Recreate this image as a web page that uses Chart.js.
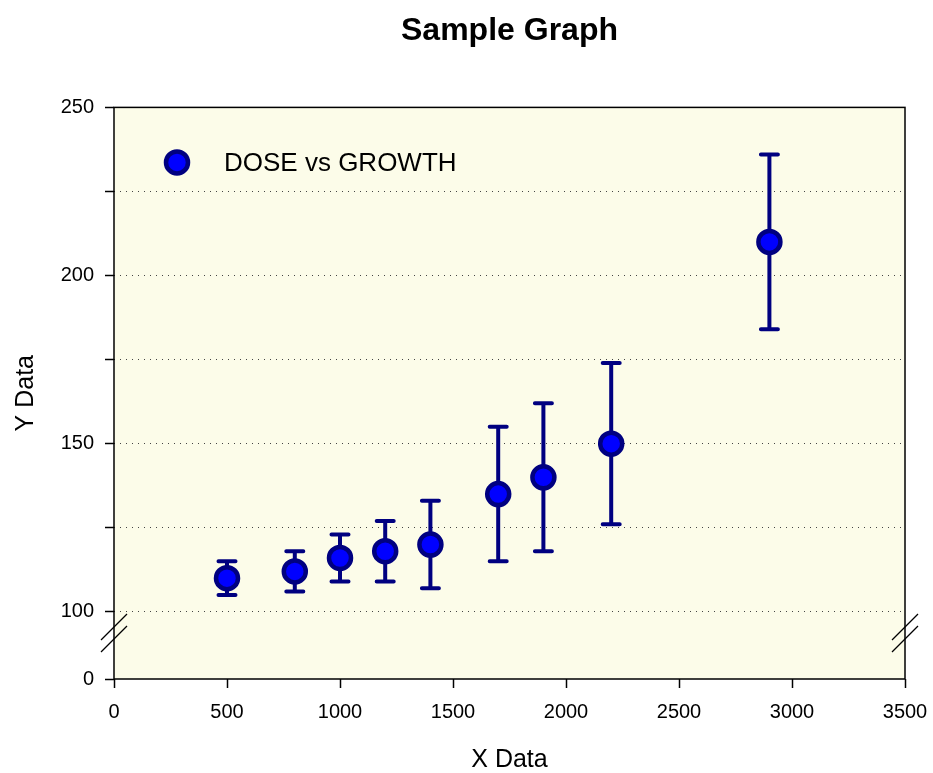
<!DOCTYPE html>
<html>
<head>
<meta charset="utf-8">
<script src="https://cdn.jsdelivr.net/npm/chart.js@4.4.1/dist/chart.umd.min.js"></script>
<style>
  html, body { margin: 0; padding: 0; background: #fff; }
  canvas { display: block; }
</style>
</head>
<body>
<canvas id="chartCanvas" width="933" height="773"></canvas>
<script>
const doseX = [500, 800, 1000, 1200, 1400, 1700, 1900, 2200, 2900];
const growthY = [110, 112, 116, 118, 120, 135, 140, 150, 210];
const errUpper = [115, 118, 123, 127, 133, 155, 162, 174, 236];
const errLower = [105, 106, 109, 109, 107, 115, 118, 126, 184];
const yTicks = [80, 100, 125, 150, 175, 200, 225, 250];   // 80 sits where the broken axis shows "0"
const yMajor = [80, 100, 150, 200, 250];
const yBreakValue = 93.7;
const font = "'Liberation Sans', Arial, sans-serif";

const points = doseX.map((x, i) => ({ x: x, y: growthY[i] }));

// plot background + frame
const framePlugin = {
    id: "frame",
    afterLayout(chart) {
        // centre the title over the plot, not the canvas
        if (chart.titleBlock) {
            chart.titleBlock.left = chart.chartArea.left;
            chart.titleBlock.right = chart.chartArea.right;
        }
    },
    beforeDraw(chart) {
        const a = chart.chartArea, c = chart.ctx;
        c.save();
        c.fillStyle = "#FCFCE9";
        c.fillRect(a.left, a.top, a.right - a.left, a.bottom - a.top);
        c.restore();
    },
    afterDraw(chart) {
        const a = chart.chartArea, c = chart.ctx;
        c.save();
        c.strokeStyle = "#000";
        c.lineWidth = 1.5;
        c.strokeRect(a.left, a.top, a.right - a.left, a.bottom - a.top);
        // axis break marks
        const yb = chart.scales.y.getPixelForValue(yBreakValue);
        c.lineWidth = 1.3;
        [a.left, a.right].forEach(function (xb) {
            [-6, 6].forEach(function (d) {
                c.beginPath();
                c.moveTo(xb - 13, yb + d + 13);
                c.lineTo(xb + 13, yb + d - 13);
                c.stroke();
            });
        });
        c.restore();
    }
};

// vertical error bars, drawn under the symbols
const errorBarPlugin = {
    id: "errorBars",
    beforeDatasetsDraw(chart) {
        const c = chart.ctx, xs = chart.scales.x, ys = chart.scales.y;
        c.save();
        c.strokeStyle = "#000080";
        c.lineWidth = 4;
        c.lineCap = "round";
        doseX.forEach(function (x, i) {
            const px = xs.getPixelForValue(x);
            const top = ys.getPixelForValue(errUpper[i]);
            const bot = ys.getPixelForValue(errLower[i]);
            c.beginPath();
            c.moveTo(px, top); c.lineTo(px, bot);
            c.moveTo(px - 8.5, top); c.lineTo(px + 8.5, top);
            c.moveTo(px - 8.5, bot); c.lineTo(px + 8.5, bot);
            c.stroke();
        });
        c.restore();
    }
};

// legend box inside the plot, top left
const innerLegendPlugin = {
    id: "innerLegend",
    afterDraw(chart) {
        const c = chart.ctx, a = chart.chartArea;
        const ds = chart.data.datasets[0];
        const cx = a.left + 63, cy = a.top + 55;
        c.save();
        c.beginPath();
        c.arc(cx, cy, ds.pointRadius, 0, Math.PI * 2);
        c.fillStyle = ds.backgroundColor;
        c.fill();
        c.lineWidth = ds.borderWidth;
        c.strokeStyle = ds.borderColor;
        c.stroke();
        c.fillStyle = "#000";
        c.font = "26px " + font;
        c.textBaseline = "middle";
        c.fillText(ds.label, a.left + 110, cy + 1);
        c.restore();
    }
};

const ctx = document.getElementById("chartCanvas").getContext("2d");

const config = {
    type: "scatter",
    data: {
        datasets: [
            {
                label: "DOSE vs GROWTH",
                data: points,
                pointRadius: 11,
                pointHoverRadius: 11,
                borderWidth: 4.5,
                backgroundColor: "#0000FF",
                borderColor: "#000080"
            }
        ]
    },
    options: {
        responsive: false,
        animation: false,
        layout: { padding: { left: 0, right: 28, top: 0, bottom: 0 } },
        scales: {
            x: {
                type: "linear",
                min: 0,
                max: 3500,
                ticks: {
                    stepSize: 500,
                    color: "#000",
                    font: { family: font, size: 20 },
                    padding: 12,
                    maxRotation: 0,
                    callback: function (v) { return String(v); }
                },
                grid: {
                    drawOnChartArea: false,
                    tickLength: 9,
                    tickColor: "#000",
                    tickWidth: 1.5
                },
                border: { display: false },
                title: {
                    display: true,
                    text: "X Data",
                    color: "#000",
                    font: { family: font, size: 25, lineHeight: 1 },
                    padding: { top: 0, bottom: 0 }
                },
                afterFit(scale) {
                    scale.height = 94;
                    scale.paddingLeft = 0;
                    scale.paddingRight = 0;
                }
            },
            y: {
                type: "linear",
                min: 80,
                max: 250,
                afterBuildTicks(scale) {
                    scale.ticks = yTicks.map(v => ({ value: v }));
                },
                ticks: {
                    autoSkip: false,
                    color: "#000",
                    font: { family: font, size: 20 },
                    padding: 11,
                    callback: function (v) {
                        if (v === 80) return "0";
                        return yMajor.includes(v) ? String(v) : "";
                    }
                },
                grid: {
                    color: function (c) {
                        const v = c.tick ? c.tick.value : null;
                        return (v === 80 || v === 250) ? "rgba(0,0,0,0)" : "#444";
                    },
                    lineWidth: 1,
                    tickLength: 9,
                    tickColor: "#000",
                    tickWidth: 1.5
                },
                border: { display: false, dash: [1, 5] },
                title: {
                    display: true,
                    text: "Y Data",
                    color: "#000",
                    font: { family: font, size: 25, lineHeight: 1 },
                    padding: { top: 14, bottom: 0 }
                },
                afterFit(scale) { scale.width = 114; }
            }
        },
        plugins: {
            title: {
                display: true,
                text: "Sample Graph",
                color: "#000",
                font: { family: font, size: 32, weight: "bold", lineHeight: 1.2 },
                padding: { top: 12, bottom: 57 }
            },
            legend: { display: false },
            tooltip: { enabled: false }
        }
    },
    plugins: [framePlugin, errorBarPlugin, innerLegendPlugin]
};

const chart = new Chart(ctx, config);
</script>
</body>
</html>
